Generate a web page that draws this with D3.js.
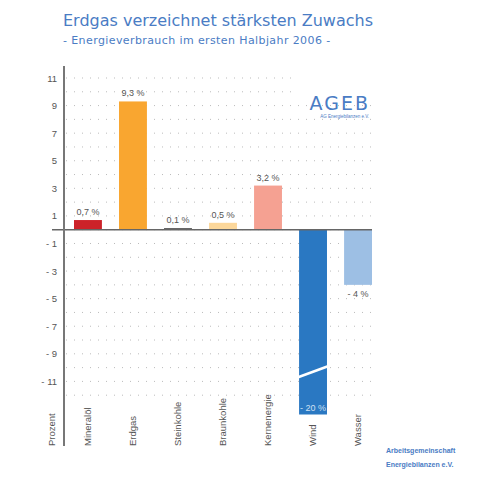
<!DOCTYPE html>
<html><head><meta charset="utf-8">
<script src="https://cdn.jsdelivr.net/npm/d3@7"></script>
<style>body{margin:0;background:#fff}</style>
</head><body>
<script>
var categories = ["Mineralöl", "Erdgas", "Steinkohle", "Braunkohle", "Kernenergie", "Wind", "Wasser"];
var values = [0.7, 9.3, 0.1, 0.5, 3.2, -20, -4];
var labels = ["0,7 %", "9,3 %", "0,1 %", "0,5 %", "3,2 %", "- 20  %", "- 4 %"];
var colors = ["#cc2229", "#f9a630", "#222222", "#fcd79a", "#f5a192", "#2a78c2", "#9dbfe4"];
var tickValues = [11, 9, 7, 5, 3, 1, -1, -3, -5, -7, -9, -11];
var axisMin = -13.4; // broken axis: Wind bar is cut here

var svg = d3.select("body").append("svg").attr("width", 490).attr("height", 484);
var blue = "#4a7cc4";

svg.append("text").attr("x", 63).attr("y", 26).text("Erdgas verzeichnet stärksten Zuwachs")
    .style("font-family", "DejaVu Sans").style("font-size", "16px").style("fill", blue);
svg.append("text").attr("x", 63).attr("y", 44).text("- Energieverbrauch im ersten Halbjahr 2006 -")
    .style("font-family", "DejaVu Sans").style("font-size", "11px").style("fill", blue).style("letter-spacing", "0.4px");

var y = d3.scaleLinear().domain([axisMin, 11]).range([414.5, 78]);
var x = d3.scaleBand().domain(categories).range([65, 381]).paddingInner(0.38).paddingOuter(0.2);

// dotted grid
var gridRows = d3.range(11, -13, -1);
svg.append("g").selectAll("line").data(gridRows).join("line")
    .attr("x1", 66).attr("x2", function(d) { return d >= 10 ? 293 : 372; })
    .attr("y1", function(d) { return y(d); }).attr("y2", function(d) { return y(d); })
    .attr("stroke", "#bbb").attr("stroke-width", 1).attr("stroke-dasharray", "1,7");

// bars
svg.append("g").selectAll("rect").data(values).join("rect")
    .attr("x", function(d, i) { return x(categories[i]); })
    .attr("width", x.bandwidth())
    .attr("y", function(d) { return y(Math.max(0, d)); })
    .attr("height", function(d) { return Math.abs(y(Math.max(d, axisMin)) - y(0)); })
    .attr("fill", function(d, i) { return colors[i]; });

// break mark on Wind
var wx = x("Wind");
svg.append("line").attr("x1", wx - 1).attr("x2", wx + x.bandwidth() + 1)
    .attr("y1", y(-10.7)).attr("y2", y(-9.9)).attr("stroke", "#fff").attr("stroke-width", 2.5);

// value labels
svg.append("g").selectAll("text").data(values).join("text")
    .attr("x", function(d, i) { return x(categories[i]) + x.bandwidth() / 2; })
    .attr("y", function(d, i) { return d >= 0 ? y(d) - 5 : (d < axisMin ? y(axisMin) - 4 : y(d) + 12); })
    .attr("text-anchor", "middle")
    .text(function(d, i) { return labels[i]; })
    .style("font-family", "Liberation Sans Narrow, Liberation Sans").style("font-size", "9px")
    .style("fill", function(d) { return d < axisMin ? "#cfe0f3" : "#555"; });

// zero line and axis
svg.append("line").attr("x1", 52).attr("x2", 372).attr("y1", y(0)).attr("y2", y(0)).attr("stroke", "#666").attr("stroke-width", 1.5);
svg.append("line").attr("x1", 64).attr("x2", 64).attr("y1", 66).attr("y2", 446).attr("stroke", "#777").attr("stroke-width", 2);

var yAxis = d3.axisLeft(y).tickValues(tickValues).tickSize(0).tickPadding(0)
    .tickFormat(function(d) { return d < 0 ? "- " + Math.abs(d) : d; });
var ga = svg.append("g").attr("transform", "translate(57,0)").call(yAxis);
ga.select(".domain").remove();
ga.selectAll("text").style("font-family", "Liberation Sans Narrow, Liberation Sans").style("font-size", "9.5px").style("fill", "#555");

// category labels
svg.append("g").selectAll("text").data(categories).join("text")
    .attr("transform", function(d) { return "translate(" + (x(d) + x.bandwidth() / 2 + 3) + ",446) rotate(-90)"; })
    .text(function(d) { return d; })
    .style("font-family", "Liberation Sans Narrow, Liberation Sans").style("font-size", "9.5px").style("fill", "#555");
svg.append("text").attr("transform", "translate(55,446) rotate(-90)").text("Prozent")
    .style("font-family", "Liberation Sans Narrow, Liberation Sans").style("font-size", "9.5px").style("fill", "#555");

// logo
svg.append("text").attr("x", 370).attr("y", 110).attr("text-anchor", "end").text("AGEB")
    .style("font-family", "DejaVu Sans").style("font-size", "19px").style("fill", blue).style("letter-spacing", "2px");
svg.append("text").attr("x", 369).attr("y", 118).attr("text-anchor", "end").text("AG Energiebilanzen e.V.")
    .style("font-family", "Liberation Sans Narrow, Liberation Sans").style("font-size", "4.5px").style("fill", blue);

svg.append("text").attr("x", 386).attr("y", 453).text("Arbeitsgemeinschaft")
    .style("font-family", "Liberation Sans").style("font-size", "7px").style("font-weight", "bold").style("fill", blue);
svg.append("text").attr("x", 386).attr("y", 467).text("Energiebilanzen e.V.")
    .style("font-family", "Liberation Sans").style("font-size", "7px").style("font-weight", "bold").style("fill", blue);
</script>
</body></html>
